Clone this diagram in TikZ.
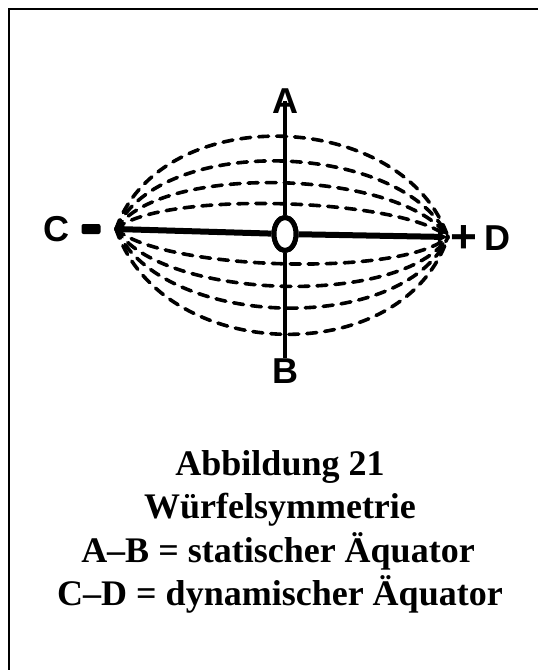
\documentclass[tikz,border=0pt]{standalone}
\usepackage{fontspec}
\setmainfont{Liberation Serif}
\newfontfamily\lsans{Liberation Sans}
\usetikzlibrary{shapes.geometric,arrows.meta}
\begin{document}
\begin{tikzpicture}[x=1pt,y=-1pt,
  frameline/.style={line width=2pt,line cap=rect},
  axisline/.style={line width=3.5pt},
  equline/.style={line width=6pt},
  fieldline/.style={line width=3.6pt,dash pattern=on 10pt off 8pt,line cap=round},
  axlabel/.style={font=\lsans\bfseries\fontsize{36}{36}\selectfont,inner sep=0pt},
  centre/.style={ellipse,draw,line width=5pt,fill=white,minimum width=22pt,minimum height=33pt,inner sep=0pt},
  caption/.style={font=\bfseries\fontsize{36}{43}\selectfont,anchor=base,inner sep=0pt}]
\useasboundingbox (0,0) rectangle (538,670);
% frame (only top and left edges visible)
\draw[frameline] (538,9) -- (9,9) -- (9,670);
% axis labels
\node[axlabel] (A) at (285,101) {A};
\node[axlabel] (B) at (285,371) {B};
\node[axlabel] (C) at (56,229) {C};
\node[inner sep=0pt,fill=black,rounded corners=2pt,minimum width=19pt,minimum height=10pt] (Cm) at (91,229) {};
\node[axlabel,font=\lsans\bfseries\fontsize{46}{46}\selectfont] (Dp) at (464,239) {+};
\node[axlabel] (D) at (497,238) {D};
\coordinate (L) at (116,229);
\coordinate (R) at (448,237);
\node[centre] (O) at (285,234) {};
% dashed field lines
\foreach \c in {-135,-100,-71,-41,39,67,96,129}{
  \draw[fieldline] (L) .. controls ([xshift=45pt,yshift=\c pt]L) and ([xshift=-45pt,yshift=\c pt]R) .. (R);
}
% axes
\draw[axisline] (A.center) -- (O);
\draw[axisline] (O) -- (B.north);
\draw[equline] (L) -- (O);
\draw[equline,-{Latex[length=10pt,width=12pt]}] (O) -- (R);
\node[centre] at (O) {};
% caption
\node[caption] (t1) at (280,475) {Abbildung 21};
\node[caption] (t2) at (280,518) {Würfelsymmetrie};
\node[caption] (t3) at (278,562) {A–B = statischer Äquator};
\node[caption] (t4) at (280,605) {C–D = dynamischer Äquator};
\end{tikzpicture}
\end{document}
